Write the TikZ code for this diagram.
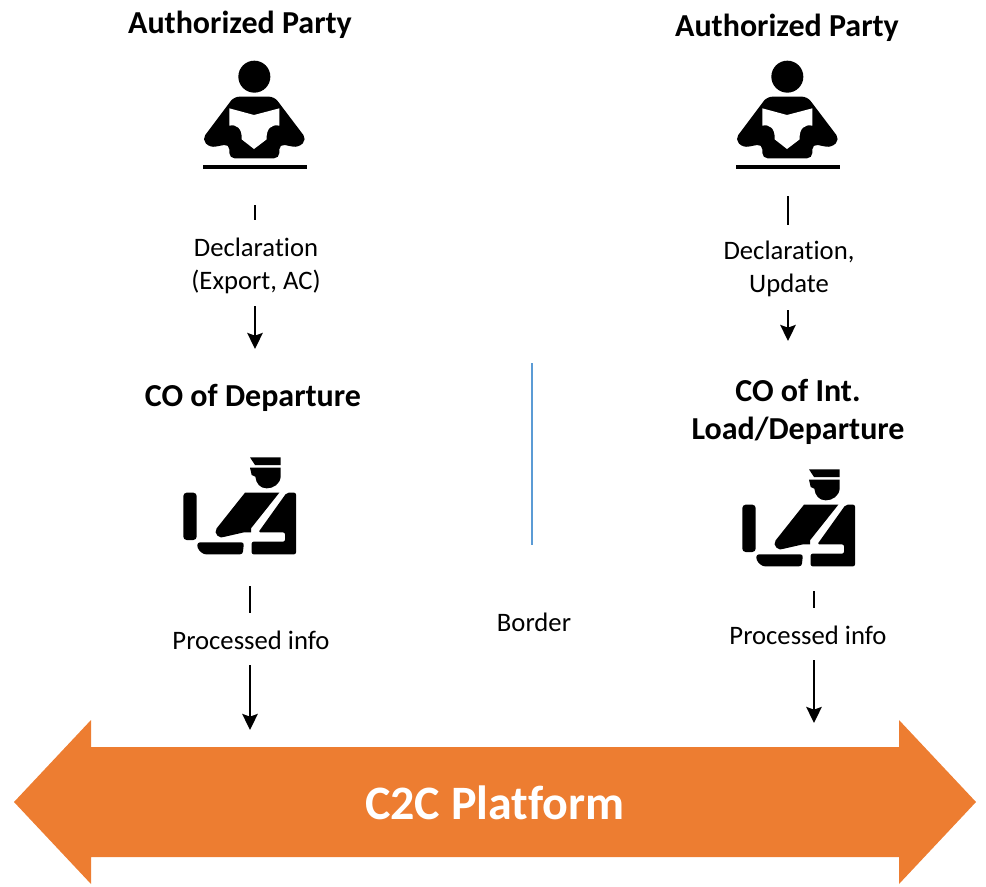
\documentclass[tikz,border=0pt]{standalone}
\usepackage{fontspec}
\usetikzlibrary{arrows.meta}
\setmainfont[Ligatures=NoCommon]{Carlito}
\definecolor{platform}{HTML}{ED7D31}
\definecolor{borderline}{HTML}{5B9BD5}
\tikzset{
  x=.75pt,y=-.75pt,
  heading/.style={font=\bfseries\fontsize{24}{28.5}\selectfont,align=center,inner sep=0pt},
  flowlabel/.style={font=\fontsize{20}{24.75}\selectfont,align=center,inner sep=0pt},
  stub/.style={black,line width=2pt},
  flow/.style={black,line width=2pt,-{Stealth[length=12pt,width=11.5pt,inset=2pt]}},
  pics/reader/.style={code={
    \begin{scope}[x=.25pt,y=-.25pt]
      \fill[black] (253,80) circle (48);
      \fill[black,rounded corners=4pt] (192,140) -- (313,140) -- (410,268) -- (385,293) -- (328,282) -- (328,325) -- (178,325) -- (178,282) -- (120,293) -- (96,268) -- cycle;
      \fill[white] (178,175) -- (252,195) -- (328,175) -- (328,227) .. controls (305,222) and (288,235) .. (290,268) -- (252,297) -- (215,268) .. controls (217,235) and (200,222) .. (178,227) -- cycle;
      \fill[black] (100,346) rectangle (410,358);
    \end{scope}}},
  pics/officer/.style={code={
    \begin{scope}[x=.25pt,y=-.25pt]
      \fill[black] (240,37) -- (332,37) -- (332,60) -- (255,60) -- cycle;
      \fill[black] (240,68) -- (332,68) -- (332,95) .. controls (330,118) and (310,130) .. (290,130) .. controls (270,130) and (258,115) .. (256,95) -- (245,90) -- cycle;
      \fill[black,rounded corners=2.5pt] (80,143) -- (40,143) -- (40,285) -- (80,285) -- cycle;
      \fill[black,rounded corners=2pt] (82,292) -- (222,292) -- (218,328) -- (100,328) -- (82,310) -- cycle;
      \fill[black] (225,143) -- (328,143) -- (243,250) -- (243,262) -- (222,262) -- (165,275) .. controls (150,285) and (128,265) .. (140,250) -- cycle;
      \fill[black,rounded corners=1.5pt] (265,262) -- (350,143) -- (378,143) -- (378,328) -- (245,328) -- (245,290) -- (345,290) -- (345,262) -- cycle;
    \end{scope}}},
}
\begin{document}
\begin{tikzpicture}
\useasboundingbox (0,0) rectangle (986,886);

% Platform arrow
\fill[platform] (14,802) -- (91,720) -- (91,747) -- (899,747) -- (899,720) -- (976,802) -- (899,884) -- (899,857) -- (91,857) -- (91,884) -- cycle;
\node[font=\bfseries\fontsize{36}{44}\selectfont,text=white,inner sep=0pt] (platformlabel) at (495,803) {C2C Platform};

% Headings
\node[heading] (apl) at (240,25) {Authorized Party};
\node[heading] (apr) at (787,28) {Authorized Party};
\node[heading] (col) at (253,398) {CO of Departure};
\node[heading] (cor) at (798,412) {CO of Int.\\Load/Departure};

% Icons
\pic at (170,50) {reader};
\pic at (703,50) {reader};
\pic at (170,445) {officer};
\pic at (729,457) {officer};

% Labels
\node[flowlabel] (decl) at (256,266) {Declaration\\(Export, AC)};
\node[flowlabel] (declr) at (789,269) {Declaration,\\Update};
\node[flowlabel] (procl) at (251,640) {Processed info};
\node[flowlabel] (procr) at (808,635) {Processed info};
\node[flowlabel] (border) at (534,622) {Border};

% Connector ends
\coordinate (a1) at (255,205); \coordinate (a2) at (255,220);
\coordinate (a3) at (255,306); \coordinate (a4) at (255,349);
\coordinate (b1) at (788,196); \coordinate (b2) at (788,225);
\coordinate (b3) at (788,310); \coordinate (b4) at (788,341);
\coordinate (c1) at (250,586); \coordinate (c2) at (250,613);
\coordinate (c3) at (250,665); \coordinate (c4) at (250,730);
\coordinate (d1) at (814,591); \coordinate (d2) at (814,608);
\coordinate (d3) at (814,660); \coordinate (d4) at (814,723);
\coordinate (e1) at (532,363); \coordinate (e2) at (532,545);

\draw[stub] (a1) -- (a2);
\draw[flow] (a3) -- (a4);
\draw[stub] (b1) -- (b2);
\draw[flow] (b3) -- (b4);
\draw[stub] (c1) -- (c2);
\draw[flow] (c3) -- (c4);
\draw[stub] (d1) -- (d2);
\draw[flow] (d3) -- (d4);
\draw[borderline,line width=.9pt] (e1) -- (e2);
\end{tikzpicture}
\end{document}
